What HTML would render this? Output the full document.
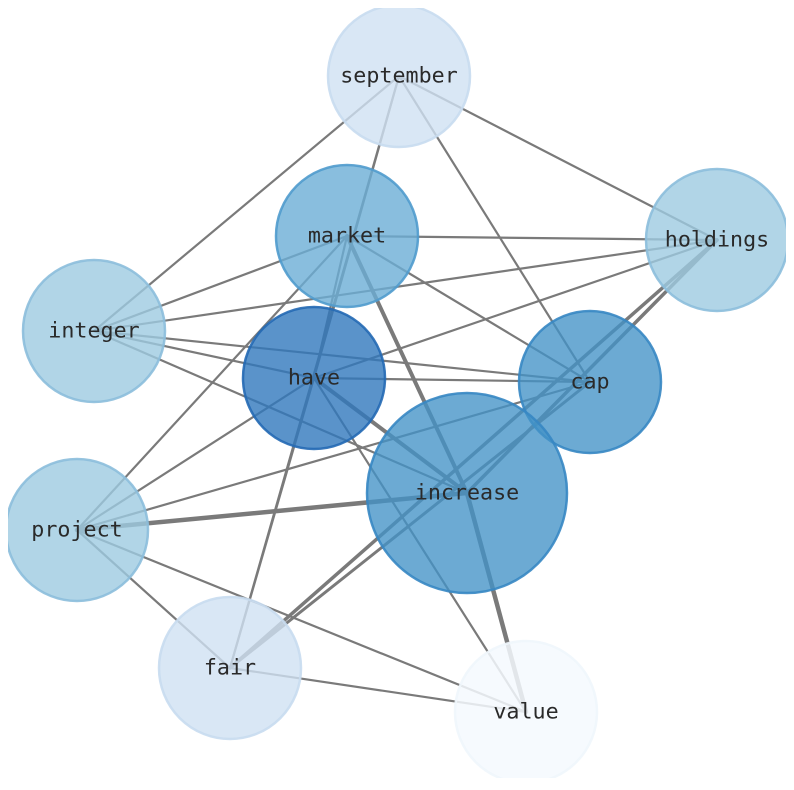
<!DOCTYPE html>
<html><head><meta charset="utf-8"><style>
html,body{margin:0;padding:0;background:#fff;}
svg{display:block;}
text{font-family:"DejaVu Sans Mono","Liberation Mono",monospace;font-size:21.7px;fill:#2a2a2a;text-anchor:middle;dominant-baseline:central;}
</style></head><body>
<svg width="794" height="790" viewBox="0 0 794 790" xmlns="http://www.w3.org/2000/svg">
<defs><clipPath id="c"><rect x="8" y="8" width="778" height="770"/></clipPath></defs>
<g clip-path="url(#c)">
<g stroke="#7a7a7a" stroke-width="2.2" fill="none" stroke-linecap="round">
<line x1="399" y1="76" x2="94" y2="331"/>
<line x1="399" y1="76" x2="314" y2="378"/>
<line x1="399" y1="76" x2="230" y2="668"/>
<line x1="399" y1="76" x2="717" y2="240"/>
<line x1="399" y1="76" x2="590" y2="382"/>
<line x1="347" y1="236" x2="717" y2="240"/>
<line x1="347" y1="236" x2="94" y2="331"/>
<line x1="347" y1="236" x2="590" y2="382"/>
<line x1="347" y1="236" x2="77" y2="530"/>
<line x1="347" y1="236" x2="314" y2="378"/>
<line x1="347" y1="236" x2="467" y2="493" stroke-width="4"/>
<line x1="94" y1="331" x2="717" y2="240"/>
<line x1="94" y1="331" x2="314" y2="378"/>
<line x1="94" y1="331" x2="590" y2="382"/>
<line x1="94" y1="331" x2="467" y2="493"/>
<line x1="314" y1="378" x2="590" y2="382"/>
<line x1="314" y1="378" x2="717" y2="240"/>
<line x1="314" y1="378" x2="467" y2="493" stroke-width="4"/>
<line x1="314" y1="378" x2="77" y2="530"/>
<line x1="314" y1="378" x2="230" y2="668"/>
<line x1="314" y1="378" x2="526" y2="712"/>
<line x1="590" y1="382" x2="77" y2="530"/>
<line x1="590" y1="382" x2="230" y2="668" stroke-width="3"/>
<line x1="717" y1="240" x2="230" y2="668" stroke-width="3.5"/>
<line x1="717" y1="240" x2="467" y2="493" stroke-width="3.5"/>
<line x1="467" y1="493" x2="77" y2="530" stroke-width="4.5"/>
<line x1="467" y1="493" x2="526" y2="712" stroke-width="4.5"/>
<line x1="77" y1="530" x2="526" y2="712"/>
<line x1="77" y1="530" x2="230" y2="668"/>
<line x1="230" y1="668" x2="526" y2="712"/>
</g>
<g stroke-width="2.5">
<circle cx="399" cy="76" r="71" fill="rgba(208,225,242,0.8)" stroke="rgba(200,220,240,0.9)"/>
<circle cx="347" cy="236" r="71" fill="rgba(107,174,214,0.8)" stroke="rgba(80,155,205,0.9)"/>
<circle cx="717" cy="240" r="71" fill="rgba(158,202,225,0.8)" stroke="rgba(140,190,220,0.9)"/>
<circle cx="94" cy="331" r="71" fill="rgba(158,202,225,0.8)" stroke="rgba(140,190,220,0.9)"/>
<circle cx="314" cy="378" r="71" fill="rgba(49,120,189,0.8)" stroke="rgba(35,105,180,0.9)"/>
<circle cx="590" cy="382" r="71" fill="rgba(66,146,198,0.78)" stroke="rgba(55,135,195,0.9)"/>
<circle cx="467" cy="493" r="100" fill="rgba(66,146,198,0.78)" stroke="rgba(55,135,195,0.9)"/>
<circle cx="77" cy="530" r="71" fill="rgba(158,202,225,0.8)" stroke="rgba(140,190,220,0.9)"/>
<circle cx="230" cy="668" r="71" fill="rgba(208,225,242,0.8)" stroke="rgba(200,220,240,0.9)"/>
<circle cx="526" cy="712" r="71" fill="rgba(244,249,254,0.85)" stroke="rgba(240,246,252,0.9)"/>
</g>
<text x="399" y="76">september</text>
<text x="347" y="236">market</text>
<text x="717" y="240">holdings</text>
<text x="94" y="331">integer</text>
<text x="314" y="378">have</text>
<text x="590" y="382">cap</text>
<text x="467" y="493">increase</text>
<text x="77" y="530">project</text>
<text x="230" y="668">fair</text>
<text x="526" y="712">value</text>
</g>
</svg>
</body></html>
